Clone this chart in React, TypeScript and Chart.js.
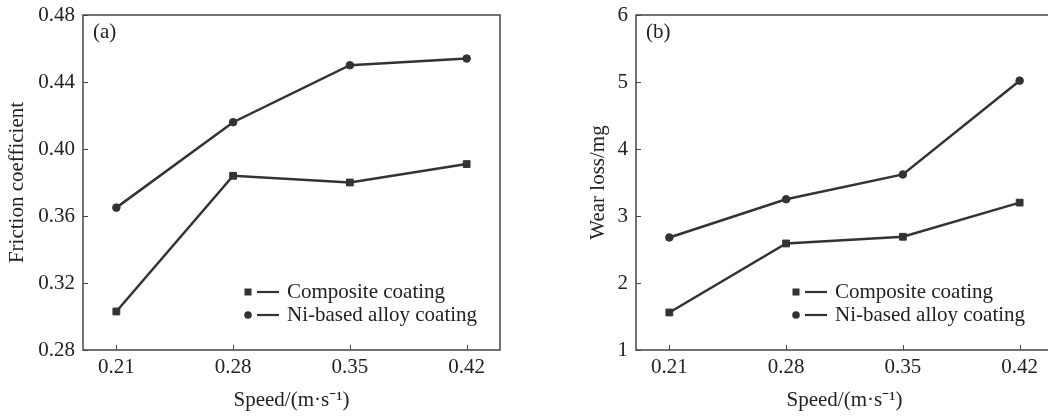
import React, { useEffect, useRef } from 'react';
import { Chart, registerables } from 'chart.js';

Chart.register(...registerables);

// ---- data ----
const speeds = [0.21, 0.28, 0.35, 0.42];
const seriesNames = ['Composite coating', 'Ni-based alloy coating'];
const frictionComposite = [0.303, 0.384, 0.38, 0.391];
const frictionNi = [0.365, 0.416, 0.45, 0.454];
const wearComposite = [1.56, 2.59, 2.69, 3.2];
const wearNi = [2.68, 3.25, 3.62, 5.02];
const frictionTicks = [0.28, 0.32, 0.36, 0.4, 0.44, 0.48];
const wearTicks = [1, 2, 3, 4, 5, 6];
const xTitle = 'Speed/(m·s⁻¹)';
const frictionTitle = 'Friction coefficient';
const wearTitle = 'Wear loss/mg';

const FONT_FAMILY = "'Liberation Serif', 'Times New Roman', serif";
const TEXT = '#222';
const LINE = '#333';
const AXIS = '#444';

const framePlugin = {
  id: 'frame',
  afterDraw(chart: any, _args: any, opts: any) {
    const { ctx, chartArea } = chart;
    const { left, right, top, bottom } = chartArea;
    ctx.save();
    ctx.strokeStyle = AXIS;
    ctx.lineWidth = 1.5;
    ctx.strokeRect(left, top, right - left, bottom - top);
    // inward tick marks
    ctx.lineWidth = 1;
    const xs = chart.scales.x;
    xs.ticks.forEach((t: any) => {
      const px = Math.round(xs.getPixelForValue(t.value)) + 0.5;
      ctx.beginPath();
      ctx.moveTo(px, bottom);
      ctx.lineTo(px, bottom - 5);
      ctx.stroke();
    });
    const ys = chart.scales.y;
    ys.ticks.forEach((t: any) => {
      const py = Math.round(ys.getPixelForValue(t.value)) + 0.5;
      ctx.beginPath();
      ctx.moveTo(left, py);
      ctx.lineTo(left + 5, py);
      ctx.stroke();
    });
    // panel label
    ctx.fillStyle = TEXT;
    ctx.font = `21px ${FONT_FAMILY}`;
    ctx.textBaseline = 'middle';
    ctx.textAlign = 'left';
    ctx.fillText(opts.label, left + opts.labelDx, top + 17);
    // legend
    const lx = opts.legendX;
    chart.data.datasets.forEach((ds: any, i: number) => {
      const cy = opts.legendY + i * 23;
      ctx.fillStyle = LINE;
      if (ds.pointStyle === 'rect') {
        ctx.fillRect(lx - 3.5, cy - 3.5, 7, 7);
      } else {
        ctx.beginPath();
        ctx.arc(lx, cy, 3.8, 0, Math.PI * 2);
        ctx.fill();
      }
      ctx.strokeStyle = LINE;
      ctx.lineWidth = 2.2;
      ctx.beginPath();
      ctx.moveTo(lx + 9, cy);
      ctx.lineTo(lx + 31, cy);
      ctx.stroke();
      ctx.fillStyle = TEXT;
      ctx.fillText(ds.label, lx + 39, cy);
    });
    ctx.restore();
  },
};

function zeroPad(s: any) {
  s.paddingTop = 0;
  s.paddingBottom = 0;
  s.paddingLeft = 0;
  s.paddingRight = 0;
}

function makeConfig(p: any) {
  const font = { family: FONT_FAMILY, size: 21 };
  const common = {
    borderColor: LINE,
    backgroundColor: LINE,
    pointBackgroundColor: LINE,
    pointBorderColor: LINE,
    borderWidth: 2.5,
    pointBorderWidth: 1,
    tension: 0,
  };
  return {
    type: 'line',
    data: {
      datasets: [
        {
          ...common,
          label: seriesNames[0],
          data: speeds.map((x, i) => ({ x, y: p.composite[i] })),
          pointStyle: 'rect',
          pointRadius: 4.8,
        },
        {
          ...common,
          label: seriesNames[1],
          data: speeds.map((x, i) => ({ x, y: p.ni[i] })),
          pointStyle: 'circle',
          pointRadius: 3.8,
        },
      ],
    },
    options: {
      responsive: false,
      animation: false,
      events: [],
      layout: { padding: { left: p.padLeft, right: p.padRight, top: 15, bottom: 0 } },
      plugins: {
        legend: { display: false },
        tooltip: { enabled: false },
        frame: { label: p.label, labelDx: 10, legendX: p.legendX, legendY: 292 },
      },
      scales: {
        x: {
          type: 'linear',
          min: 0.19,
          max: 0.44,
          afterBuildTicks: (s: any) => {
            s.ticks = speeds.map((v) => ({ value: v }));
          },
          afterFit: (s: any) => {
            s.height = 66;
            zeroPad(s);
          },
          grid: { display: false, drawTicks: false },
          border: { display: false },
          ticks: {
            padding: 5,
            color: TEXT,
            font,
            callback: (v: any) => Number(v).toFixed(2),
          },
          title: {
            display: true,
            text: xTitle,
            color: TEXT,
            font,
            padding: { top: 0, bottom: 3 },
          },
        },
        y: {
          type: 'linear',
          min: p.yTicks[0],
          max: p.yTicks[p.yTicks.length - 1],
          afterBuildTicks: (s: any) => {
            s.ticks = p.yTicks.map((v: number) => ({ value: v }));
          },
          afterFit: (s: any) => {
            s.width = p.yWidth;
            zeroPad(s);
          },
          grid: { display: false, drawTicks: false },
          border: { display: false },
          ticks: {
            padding: 8,
            color: TEXT,
            font,
            callback: (v: any) => Number(v).toFixed(p.decimals),
          },
          title: {
            display: true,
            text: p.yTitle,
            color: TEXT,
            font,
            padding: { top: 5, bottom: 0 },
          },
        },
      },
    },
    plugins: [framePlugin],
  };
}

function Panel({ cfg, width, height, left }: any) {
  const ref = useRef<HTMLCanvasElement>(null);
  useEffect(() => {
    const chart = new Chart(ref.current as HTMLCanvasElement, makeConfig(cfg) as any);
    return () => chart.destroy();
  }, []);
  return (
    <canvas
      ref={ref}
      width={width}
      height={height}
      style={{ position: 'absolute', left, top: 0, width, height, display: 'block' }}
    />
  );
}

export default function App() {
  const a = {
    composite: frictionComposite,
    ni: frictionNi,
    yTicks: frictionTicks,
    decimals: 2,
    yTitle: frictionTitle,
    label: '(a)',
    padLeft: 0,
    yWidth: 83,
    padRight: 20,
    legendX: 248,
  };
  const b = {
    composite: wearComposite,
    ni: wearNi,
    yTicks: wearTicks,
    decimals: 0,
    yTitle: wearTitle,
    label: '(b)',
    padLeft: 53,
    yWidth: 55,
    padRight: 15,
    legendX: 268,
  };
  return (
    <div
      style={{
        position: 'absolute',
        left: 0,
        top: 0,
        width: 1048,
        height: 416,
        overflow: 'hidden',
        background: '#fff',
      }}
    >
      <Panel cfg={a} width={520} height={416} left={0} />
      <Panel cfg={b} width={540} height={416} left={528} />
    </div>
  );
}
